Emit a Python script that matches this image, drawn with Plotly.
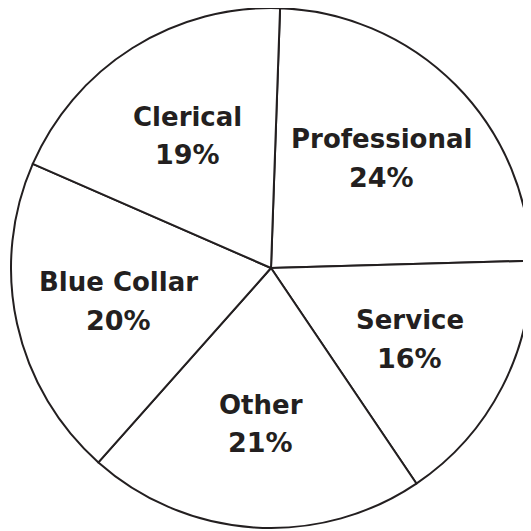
import math
import plotly.graph_objects as go

labels = ["Professional", "Service", "Other", "Blue Collar", "Clerical"]
values = [24, 16, 21, 20, 19]

ROTATION = 2          # degrees, clockwise from 12 o'clock
LABEL_R = 0.6         # label distance as a fraction of the pie radius
INK = "#231f20"

fig = go.Figure(go.Pie(
    labels=labels,
    values=values,
    sort=False,
    direction="clockwise",
    rotation=ROTATION,
    textinfo="none",
    marker=dict(colors=["white"] * len(values), line=dict(color=INK, width=2)),
    showlegend=False,
    hoverinfo="none",
))

# labels placed at the mid-angle of each slice (derived from the values)
total = sum(values)
cum = 0
for lab, v in zip(labels, values):
    theta = math.radians(ROTATION + 360 * (cum + v / 2) / total)
    cum += v
    x = 0.5 + 0.5 * LABEL_R * math.sin(theta)
    y = 0.5 + 0.5 * LABEL_R * math.cos(theta)
    fig.add_annotation(x=x, y=y, xref="paper", yref="paper", text=lab,
                       showarrow=False, yshift=19, xanchor="center", yanchor="middle",
                       font=dict(family="DejaVu Sans", size=26, color=INK, weight="bold"))
    fig.add_annotation(x=x, y=y, xref="paper", yref="paper", text=f"{v}%",
                       showarrow=False, yshift=-19, xanchor="center", yanchor="middle",
                       font=dict(family="DejaVu Sans", size=27, color=INK, weight="bold"))

fig.update_layout(
    width=531, height=531,
    margin=dict(l=3, r=8, t=0, b=11),
    paper_bgcolor="white",
    plot_bgcolor="white",
)
fig.write_html("out.html")
